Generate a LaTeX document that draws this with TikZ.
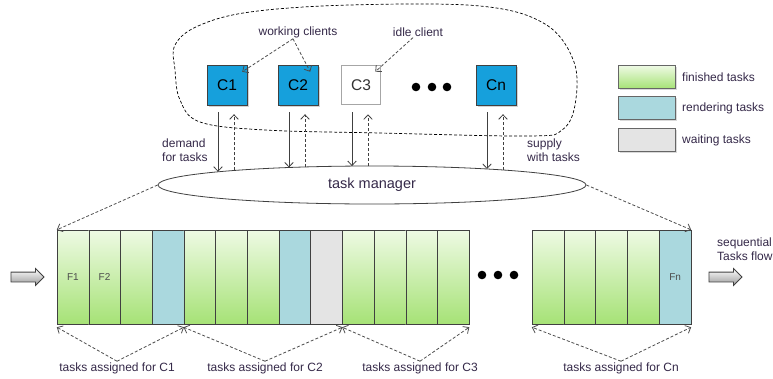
\documentclass[tikz,border=0pt]{standalone}
\usepackage{fontspec}
\setmainfont{Liberation Sans}
\usetikzlibrary{calc,arrows.meta,shapes.geometric,shapes.arrows,shadows}
\definecolor{clientblue}{RGB}{22,160,220}
\definecolor{doneA}{RGB}{238,250,228}
\definecolor{doneB}{RGB}{166,226,118}
\definecolor{rendercol}{RGB}{170,216,222}
\definecolor{waitcol}{RGB}{228,228,228}
\definecolor{txt}{RGB}{52,40,72}
\tikzset{
 >={Straight Barb[length=4.5pt,width=8.5pt]},
 client/.style={draw=black!75,fill=clientblue,minimum size=40,inner sep=0,
  font=\fontsize{15.5}{16}\selectfont,drop shadow={shadow xshift=1.5pt,shadow yshift=-1.5pt,opacity=.35}},
 idle/.style={draw=black!35,line width=1.6pt,fill=white,minimum size=39,inner sep=0,
  font=\fontsize{15.5}{16}\selectfont,text=black!80},
 cell/.style={draw=black!75,minimum width=31.7,minimum height=94,inner sep=0},
 finished/.style={top color=doneA,bottom color=doneB},
 rendering/.style={fill=rendercol},
 waiting/.style={fill=waitcol},
 cellnum/.style={font=\fontsize{10}{10}\selectfont,text=black!70},
 legbox/.style={draw=black!60,minimum width=57,minimum height=23,inner sep=0,
  drop shadow={shadow xshift=1pt,shadow yshift=-1pt,opacity=.3}},
 lbl/.style={font=\fontsize{12}{14}\selectfont,text=txt,inner sep=1pt},
 demand/.style={->,draw=black!75,line width=.8pt},
 supply/.style={->,draw=black!75,line width=.8pt,dash pattern=on 3pt off 2pt},
 hint/.style={->,draw=black!70,line width=.8pt,dash pattern=on 3pt off 2pt},
 flowarrow/.style={single arrow,draw=black!75,line width=.8pt,top color=white,bottom color=black!40,
  minimum height=33,minimum width=16,single arrow head extend=3.5pt,inner sep=4.5pt}
}
\newcommand{\link}[2]{% client, x of its centre
 \pgfmathsetmacro{\dxa}{#2-9-372}
 \pgfmathsetmacro{\dya}{19*sqrt(1-(\dxa/214)*(\dxa/214))}
 \pgfmathsetmacro{\dxb}{#2+7-372}
 \pgfmathsetmacro{\dyb}{19*sqrt(1-(\dxb/214)*(\dxb/214))}
 \draw[demand] ([xshift=-9pt,yshift=-7pt]#1.south)--($(tm.center)+(\dxa,-\dya)$);
 \draw[supply] ($(tm.center)+(\dxb,-\dyb)$)--([xshift=7pt,yshift=-9pt]#1.south);
}
\begin{document}
\begin{tikzpicture}[x=1pt,y=-1pt]
\useasboundingbox (0,0) rectangle (773,378);

% clients
\draw[line width=.7pt,dash pattern=on 3pt off 2pt] plot[smooth cycle,tension=.6] coordinates
 {(175,45) (198,26) (250,12) (350,5) (480,6) (545,24) (574,62) (575,105) (562,130) (530,136)
  (380,133) (265,130) (200,122) (180,100) (175,70)};
\node[client] (c1) at (227,85) {C1};
\node[client] (c2) at (298,85) {C2};
\node[idle] (c3) at (361,85) {C3};
\node[client] (cn) at (496,85) {Cn};
\foreach \x in {416,432,447}
 \fill (\x,87) circle [radius=4.3pt];

\node[lbl] (wc) at (298,32) {working clients};
\node[lbl] (ic) at (418,32) {idle client};
\draw[hint] ([xshift=-5pt]wc.south)--([xshift=-5pt,yshift=-7pt]c1.north east);
\draw[hint] ([xshift=-5pt]wc.south)--([xshift=-8pt,yshift=-7pt]c2.north east);
\draw[hint] ([xshift=-5pt]ic.south)--([xshift=-6pt,yshift=-7pt]c3.north east);

% task manager
\node[draw=black!75,line width=.8pt,ellipse,minimum width=428,minimum height=38,
 font=\fontsize{14.5}{16}\selectfont,text=txt] (tm) at (372,185) {task manager};
\link{c1}{227}
\link{c2}{298}
\link{c3}{361}
\link{cn}{496}
\node[lbl,align=left,anchor=west] (dm) at (161,150) {demand\\for tasks};
\node[lbl,align=left,anchor=west] (sp) at (526,150) {supply\\with tasks};

% task queue
\foreach \i/\c in {1/finished,2/finished,3/finished,4/rendering,5/finished,6/finished,7/finished,
 8/rendering,9/waiting,10/finished,11/finished,12/finished,13/finished}
 \node[cell,\c] (q\i) at ({57+31.7*(\i-0.5)},277) {};
\foreach \i/\c in {1/finished,2/finished,3/finished,4/finished,5/rendering}
 \node[cell,\c] (r\i) at ({532+31.8*(\i-0.5)},277) {};
\node[cellnum] (f1) at (q1) {F1};
\node[cellnum] (f2) at (q2) {F2};
\node[cellnum] (fn) at (r5) {Fn};
\foreach \x in {482,498,514}
 \fill (\x,275) circle [radius=4.3pt];

\draw[hint] (tm.west)--(q1.north west);
\draw[hint] (tm.east)--(r5.north east);

\node[flowarrow] (in) at (25,277) {};
\node[flowarrow] (out) at (723,277) {};
\node[lbl,align=left,anchor=west] (sq) at (716,249) {sequential\\Tasks flow};

% assigned tasks
\node[lbl] (a1) at (117,368) {tasks assigned for C1};
\node[lbl] (a2) at (265,368) {tasks assigned for C2};
\node[lbl] (a3) at (420,368) {tasks assigned for C3};
\node[lbl] (an) at (621,368) {tasks assigned for Cn};
\draw[hint] (a1.north)--([yshift=-3pt]q1.south west);
\draw[hint] (a1.north)--([yshift=-3pt]q4.south east);
\draw[hint] (a2.north)--([yshift=-3pt]q5.south west);
\draw[hint] (a2.north)--([yshift=-3pt]q9.south east);
\draw[hint] (a3.north)--([yshift=-3pt]q10.south west);
\draw[hint] (a3.north)--([yshift=-3pt]q13.south east);
\draw[hint] (an.north)--([yshift=-3pt]r1.south west);
\draw[hint] (an.north)--([yshift=-3pt]r5.south east);

% legend
\node[legbox,finished] (lg1) at (647,77) {};
\node[legbox,rendering] (lg2) at (647,108) {};
\node[legbox,waiting] (lg3) at (647,140) {};
\node[lbl,anchor=west] (lt1) at (681,77) {finished tasks};
\node[lbl,anchor=west] (lt2) at (681,108) {rendering tasks};
\node[lbl,anchor=west] (lt3) at (681,140) {waiting tasks};
\end{tikzpicture}
\end{document}
